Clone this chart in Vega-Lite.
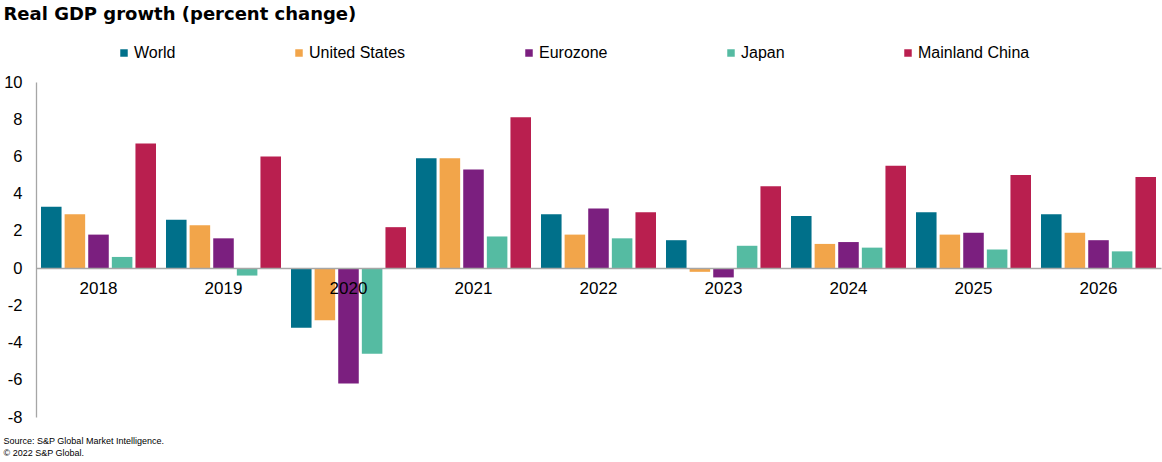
{
  "$schema": "https://vega.github.io/schema/vega-lite/v6.json",
  "width": 1125,
  "height": 335,
  "autosize": {"type": "none"},
  "padding": {"left": 36, "top": 82, "right": 1, "bottom": 45},
  "background": "white",
  "config": {
    "font": "Liberation Sans",
    "view": {"stroke": null},
    "axis": {"grid": false, "ticks": false, "domainColor": "#a6a6a6", "domainWidth": 1.3, "labelColor": "#000000", "labelFont": "Liberation Sans"}
  },
  "data": {
    "values": [
      {"year": "2018", "region": "World", "value": 3.3},
      {"year": "2018", "region": "United States", "value": 2.9},
      {"year": "2018", "region": "Eurozone", "value": 1.8},
      {"year": "2018", "region": "Japan", "value": 0.6},
      {"year": "2018", "region": "Mainland China", "value": 6.7},
      {"year": "2019", "region": "World", "value": 2.6},
      {"year": "2019", "region": "United States", "value": 2.3},
      {"year": "2019", "region": "Eurozone", "value": 1.6},
      {"year": "2019", "region": "Japan", "value": -0.4},
      {"year": "2019", "region": "Mainland China", "value": 6.0},
      {"year": "2020", "region": "World", "value": -3.2},
      {"year": "2020", "region": "United States", "value": -2.8},
      {"year": "2020", "region": "Eurozone", "value": -6.2},
      {"year": "2020", "region": "Japan", "value": -4.6},
      {"year": "2020", "region": "Mainland China", "value": 2.2},
      {"year": "2021", "region": "World", "value": 5.9},
      {"year": "2021", "region": "United States", "value": 5.9},
      {"year": "2021", "region": "Eurozone", "value": 5.3},
      {"year": "2021", "region": "Japan", "value": 1.7},
      {"year": "2021", "region": "Mainland China", "value": 8.1},
      {"year": "2022", "region": "World", "value": 2.9},
      {"year": "2022", "region": "United States", "value": 1.8},
      {"year": "2022", "region": "Eurozone", "value": 3.2},
      {"year": "2022", "region": "Japan", "value": 1.6},
      {"year": "2022", "region": "Mainland China", "value": 3.0},
      {"year": "2023", "region": "World", "value": 1.5},
      {"year": "2023", "region": "United States", "value": -0.2},
      {"year": "2023", "region": "Eurozone", "value": -0.5},
      {"year": "2023", "region": "Japan", "value": 1.2},
      {"year": "2023", "region": "Mainland China", "value": 4.4},
      {"year": "2024", "region": "World", "value": 2.8},
      {"year": "2024", "region": "United States", "value": 1.3},
      {"year": "2024", "region": "Eurozone", "value": 1.4},
      {"year": "2024", "region": "Japan", "value": 1.1},
      {"year": "2024", "region": "Mainland China", "value": 5.5},
      {"year": "2025", "region": "World", "value": 3.0},
      {"year": "2025", "region": "United States", "value": 1.8},
      {"year": "2025", "region": "Eurozone", "value": 1.9},
      {"year": "2025", "region": "Japan", "value": 1.0},
      {"year": "2025", "region": "Mainland China", "value": 5.0},
      {"year": "2026", "region": "World", "value": 2.9},
      {"year": "2026", "region": "United States", "value": 1.9},
      {"year": "2026", "region": "Eurozone", "value": 1.5},
      {"year": "2026", "region": "Japan", "value": 0.9},
      {"year": "2026", "region": "Mainland China", "value": 4.9}
    ]
  },
  "mark": {"type": "bar"},
  "encoding": {
    "x": {
      "field": "year",
      "type": "nominal",
      "scale": {"paddingInner": 0.08, "paddingOuter": 0.04},
      "title": ["Source: S&P Global Market Intelligence.", "© 2022 S&P Global."],
      "axis": {
        "orient": "bottom",
        "offset": -149,
        "zindex": 1,
        "labelAngle": 0,
        "labelFontSize": 17,
        "labelPadding": 12,
        "titleFontSize": 9,
        "titleFontWeight": "normal",
        "titleColor": "#000000",
        "titleAlign": "left",
        "titleAnchor": "start",
        "titleBaseline": "alphabetic",
        "titleLineHeight": 11.5,
        "titleX": -33,
        "titleY": 175.5
      }
    },
    "xOffset": {
      "field": "region",
      "type": "nominal",
      "scale": {"domain": ["World", "United States", "Eurozone", "Japan", "Mainland China"], "paddingInner": 0.13, "paddingOuter": 0}
    },
    "y": {
      "field": "value",
      "type": "quantitative",
      "scale": {"domain": [-8, 10], "nice": false, "zero": false},
      "title": "Real GDP growth (percent change)",
      "axis": {
        "values": [-8, -6, -4, -2, 0, 2, 4, 6, 8, 10],
        "labelExpr": "toString(datum.value)",
        "labelFontSize": 16.5,
        "labelPadding": 14,
        "titleAngle": 0,
        "titleAlign": "left",
        "titleBaseline": "alphabetic",
        "titleX": -33,
        "titleY": -62.5,
        "titleFont": "DejaVu Sans",
        "titleFontSize": 18,
        "titleFontWeight": "bold",
        "titleColor": "#000000"
      }
    },
    "color": {
      "field": "region",
      "type": "nominal",
      "scale": {
        "domain": ["World", "United States", "Eurozone", "Japan", "Mainland China"],
        "range": ["#00708A", "#F2A54A", "#7B1F7F", "#55BBA2", "#B91F4F"]
      },
      "legend": {
        "orient": "none",
        "legendX": 80,
        "legendY": -37,
        "direction": "horizontal",
        "columns": 5,
        "columnPadding": 115,
        "title": null,
        "symbolType": "square",
        "symbolSize": 56,
        "symbolStrokeWidth": 0,
        "labelFontSize": 16,
        "labelOffset": 2,
        "labelColor": "#000000",
        "labelFont": "Liberation Sans"
      }
    }
  }
}
